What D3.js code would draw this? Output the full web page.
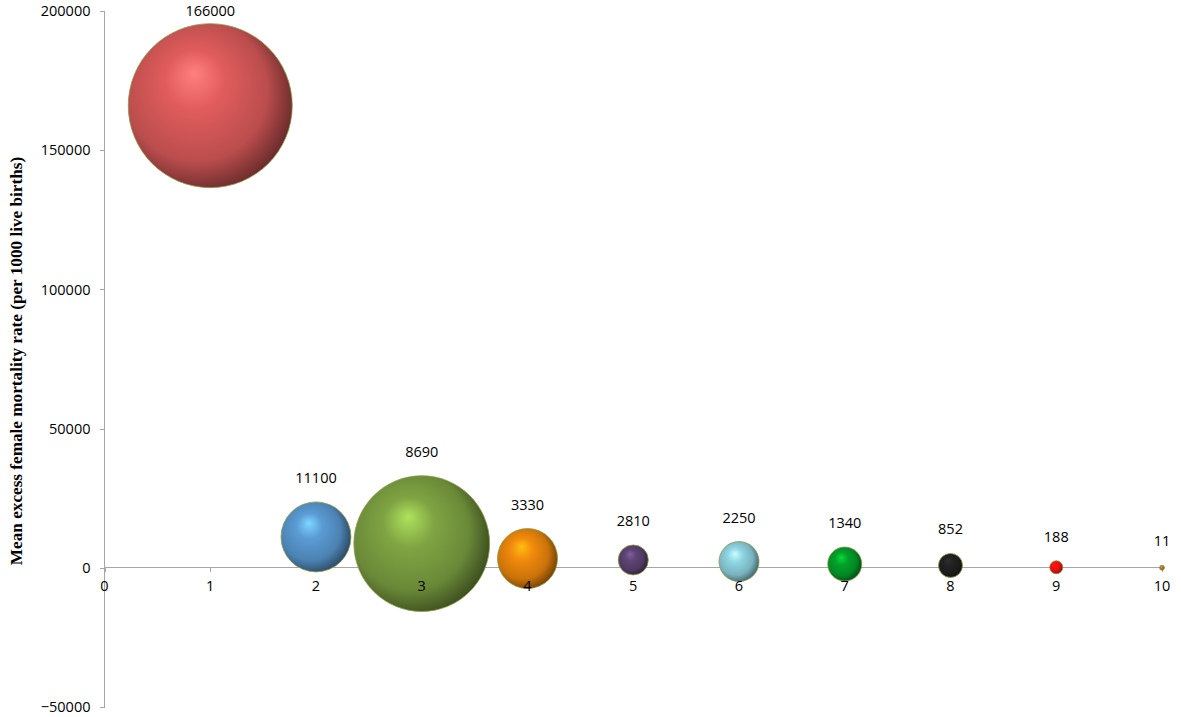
<!DOCTYPE html>
<html lang="en">
<head>
  <meta charset="UTF-8">
  <title>Excess female mortality bubble chart</title>
  <script src="https://d3js.org/d3.v7.min.js"></script>
  <style>
    body {
      margin: 0;
      background: #fff;
    }
    svg text {
      font-family: 'Open Sans', 'Liberation Sans', sans-serif;
      fill: #000;
    }
    .axis path, .axis line {
      stroke: #a6a6a6;
      shape-rendering: crispEdges;
    }
  </style>
</head>
<body>
<svg width="1181" height="717"></svg>
<script>
  // data
  const xValues = [1, 2, 3, 4, 5, 6, 7, 8, 9, 10];
  const yValues = [166000, 11100, 8690, 3330, 2810, 2250, 1340, 852, 188, 11];
  // bubble sizes (relative, proportional to area)
  const bubbleSizes = [100, 18.2, 68.5, 13.4, 3.35, 5.95, 4.3, 2.14, 0.63, 0.09];
  const bubbleColors = ["#e05c5c", "#5b9bd5", "#7fa443", "#f28a0c", "#5e4474",
                        "#8fd5e3", "#03a12a", "#222222", "#ff1010", "#c07a20"];
  const xTicks = [0, 1, 2, 3, 4, 5, 6, 7, 8, 9, 10];
  const yTicks = [-50000, 0, 50000, 100000, 150000, 200000];

  const svg = d3.select("svg");
  const margin = { left: 104.5, right: 19, top: 11, bottom: 10 };
  const width = 1181, height = 717;

  const x = d3.scaleLinear().domain([0, 10]).range([margin.left, width - margin.right]);
  const y = d3.scaleLinear().domain([-50000, 200000]).range([height - margin.bottom, margin.top]);
  const r = d3.scaleSqrt().domain([0, d3.max(bubbleSizes)]).range([0, 82]);

  const data = xValues.map((v, i) => ({
    x: v, y: yValues[i], size: bubbleSizes[i], color: bubbleColors[i]
  }));

  // sphere shading per bubble
  const defs = svg.append("defs");
  data.forEach((d, i) => {
    const g = defs.append("radialGradient")
      .attr("id", "ball" + i)
      .attr("cx", "42%").attr("cy", "45%").attr("r", "62%")
      .attr("fx", "40%").attr("fy", "30%");
    g.append("stop").attr("offset", "0%").attr("stop-color", d3.color(d.color).brighter(0.9));
    g.append("stop").attr("offset", "30%").attr("stop-color", d.color);
    g.append("stop").attr("offset", "70%").attr("stop-color", d3.color(d.color).darker(0.5));
    g.append("stop").attr("offset", "100%").attr("stop-color", d3.color(d.color).darker(2.4));
  });

  // y axis
  svg.append("g")
    .attr("class", "axis")
    .attr("transform", `translate(${margin.left},0)`)
    .call(d3.axisLeft(y).tickValues(yTicks).tickSize(5).tickPadding(9).tickFormat(d3.format("d")))
    .call(g => g.selectAll("text").attr("font-size", 14.5))
    .call(g => g.select(".domain").attr("d", `M0,${y(-50000)}V${y(200000)}`));

  // x axis at y = 0 (labels are moved on top of the bubbles later)
  const xAxis = svg.append("g")
    .attr("class", "axis")
    .attr("transform", `translate(0,${y(0)})`)
    .call(d3.axisBottom(x).tickValues(xTicks).tickSize(4).tickPadding(9).tickFormat(d3.format("d")))
    .call(g => g.selectAll("text").attr("font-size", 14.5))
    .call(g => g.select(".domain").attr("d", `M${x(0)},0H${x(10)}`));

  // bubbles
  svg.append("g")
    .selectAll("circle")
    .data(data)
    .join("circle")
    .attr("cx", d => x(d.x))
    .attr("cy", d => y(d.y))
    .attr("r", d => r(d.size))
    .attr("fill", (d, i) => `url(#ball${i})`)
    .attr("stroke", "#8a9a4a")
    .attr("stroke-width", 0.8);

  // x tick labels drawn above the bubbles, like the original
  const xLabels = svg.append("g")
    .attr("transform", `translate(0,${y(0)})`);
  xAxis.selectAll(".tick").each(function (d) {
    const t = d3.select(this).select("text");
    xLabels.append("text")
      .attr("x", x(d))
      .attr("y", +t.attr("y"))
      .attr("dy", t.attr("dy"))
      .attr("text-anchor", "middle")
      .attr("font-size", 14.5)
      .text(t.text());
    t.remove();
  });

  // value labels above bubbles
  svg.append("g")
    .selectAll("text")
    .data(data)
    .join("text")
    .attr("x", d => x(d.x))
    .attr("y", d => Math.max(16, y(d.y) - r(d.size) - 19))
    .attr("text-anchor", "middle")
    .attr("font-size", 14.5)
    .text(d => d.y);

  // y axis title
  svg.append("text")
    .attr("transform", `translate(22,361) rotate(-90)`)
    .style("text-anchor", "middle")
    .style("font-family", "'Liberation Serif', 'Times New Roman', serif")
    .style("font-size", "17.2px")
    .style("font-weight", "bold")
    .text("Mean excess female mortality rate (per 1000 live births)");
</script>
</body>
</html>
